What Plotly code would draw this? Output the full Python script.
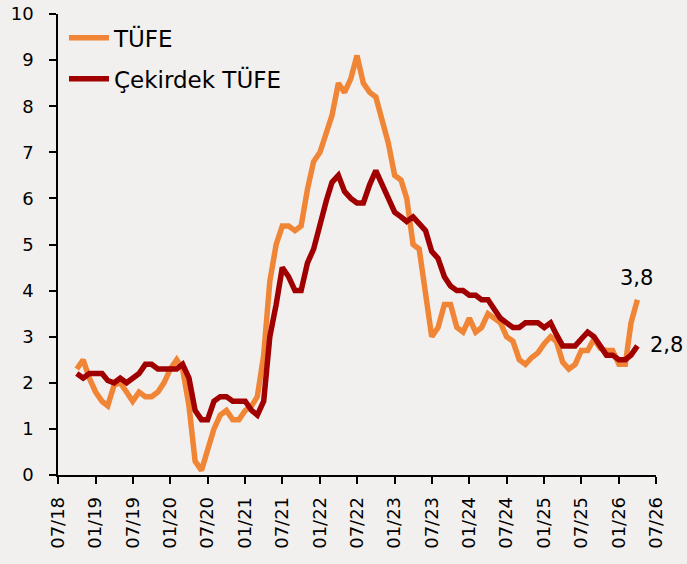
import pandas as pd
import plotly.graph_objects as go

# Monthly data, Oct 2018 - Apr 2026
dates = pd.date_range("2018-10-01", periods=91, freq="MS")

tufe = [2.3, 2.5, 2.1, 1.8, 1.6, 1.5, 1.95, 2.0, 1.8, 1.6,
        1.8, 1.7, 1.7, 1.8, 2.0, 2.3, 2.5, 2.3, 1.5, 0.3,
        0.1, 0.55, 1.0, 1.3, 1.4, 1.2, 1.2, 1.4, 1.5, 1.7,
        2.6, 4.2, 5.0, 5.4, 5.4, 5.3, 5.4, 6.2, 6.8, 7.0,
        7.4, 7.8, 8.5, 8.3, 8.6, 9.1, 8.5, 8.3, 8.2, 7.7,
        7.2, 6.5, 6.4, 6.0, 5.0, 4.9, 4.0, 3.0, 3.2, 3.7,
        3.7, 3.2, 3.1, 3.4, 3.1, 3.2, 3.5, 3.4, 3.3, 3.0,
        2.9, 2.5, 2.4, 2.55, 2.65, 2.85, 3.0, 2.9, 2.45, 2.3,
        2.4, 2.7, 2.7, 2.95, 2.75, 2.7, 2.7, 2.4, 2.4, 3.3,
        3.8]

cekirdek = [2.2, 2.1, 2.2, 2.2, 2.2, 2.05, 2.0, 2.1, 2.0, 2.1,
            2.2, 2.4, 2.4, 2.3, 2.3, 2.3, 2.3, 2.4, 2.1, 1.4,
            1.2, 1.2, 1.6, 1.7, 1.7, 1.6, 1.6, 1.6, 1.4, 1.3,
            1.6, 3.0, 3.7, 4.5, 4.3, 4.0, 4.0, 4.6, 4.9, 5.45,
            5.95, 6.35, 6.5, 6.15, 6.0, 5.9, 5.9, 6.3, 6.6, 6.3,
            6.0, 5.7, 5.6, 5.5, 5.6, 5.45, 5.3, 4.85, 4.7, 4.3,
            4.1, 4.0, 4.0, 3.9, 3.9, 3.8, 3.8, 3.6, 3.4, 3.3,
            3.2, 3.2, 3.3, 3.3, 3.3, 3.2, 3.3, 3.05, 2.8, 2.8,
            2.8, 2.95, 3.1, 3.0, 2.8, 2.6, 2.6, 2.5, 2.5, 2.6,
            2.8]

tick_dates = pd.date_range("2018-07-01", "2026-07-01", freq="6MS")
tick_labels = [d.strftime("%m/%y") for d in tick_dates]
y_ticks = list(range(0, 11))

names = ["TÜFE", "Çekirdek TÜFE"]
colors = ["#F08536", "#A00000"]

bg = "#F2F0EF"
font = "DejaVu Sans"

fig = go.Figure()
fig.add_trace(go.Scatter(x=dates, y=tufe, mode="lines", name=names[0],
                         legendgroup="a",
                         line=dict(color=colors[0], width=5.5)))
fig.add_trace(go.Scatter(x=dates, y=cekirdek, mode="lines", name=names[1],
                         legendgroup="b",
                         line=dict(color=colors[1], width=5.5)))

fig.add_annotation(x=dates[-1], y=tufe[-1], text="3,8", showarrow=False,
                   xanchor="center", yanchor="middle", xshift=-1, yshift=22,
                   font=dict(family=font, size=21, color="black"))
fig.add_annotation(x=dates[-1], y=cekirdek[-1], text="2,8", showarrow=False,
                   xanchor="left", yanchor="middle", xshift=11, yshift=1,
                   font=dict(family=font, size=21, color="black"))

fig.update_layout(
    width=687, height=564,
    margin=dict(l=58, r=31, t=14, b=89, autoexpand=False),
    paper_bgcolor=bg, plot_bgcolor=bg,
    font=dict(family=font, size=18, color="black"),
    showlegend=True,
    legend=dict(x=0.01, y=0.995, xanchor="left", yanchor="top",
                bgcolor="rgba(0,0,0,0)", font=dict(family=font, size=23),
                itemwidth=40, traceorder="grouped", tracegroupgap=8),
    xaxis=dict(
        range=[tick_dates[0], tick_dates[-1]],
        tickvals=list(tick_dates), ticktext=tick_labels,
        tickangle=-90, ticks="outside", ticklen=7, tickwidth=1.5,
        tickcolor="black", showline=True, linecolor="black", linewidth=1.5,
        showgrid=False, zeroline=False, ticklabelstandoff=6, automargin=False,
        tickfont=dict(family=font, size=18),
    ),
    yaxis=dict(
        range=[0, 10], tickvals=y_ticks,
        ticks="outside", ticklen=7, tickwidth=1.5, tickcolor="black",
        showline=True, linecolor="black", linewidth=1.5,
        showgrid=False, zeroline=False, ticklabelstandoff=12, automargin=False,
        tickfont=dict(family=font, size=18),
    ),
)

fig.write_html(
    "out.html",
    config={"displayModeBar": False},
    post_script="document.body.style.margin='0';document.body.style.padding='0';",
)
